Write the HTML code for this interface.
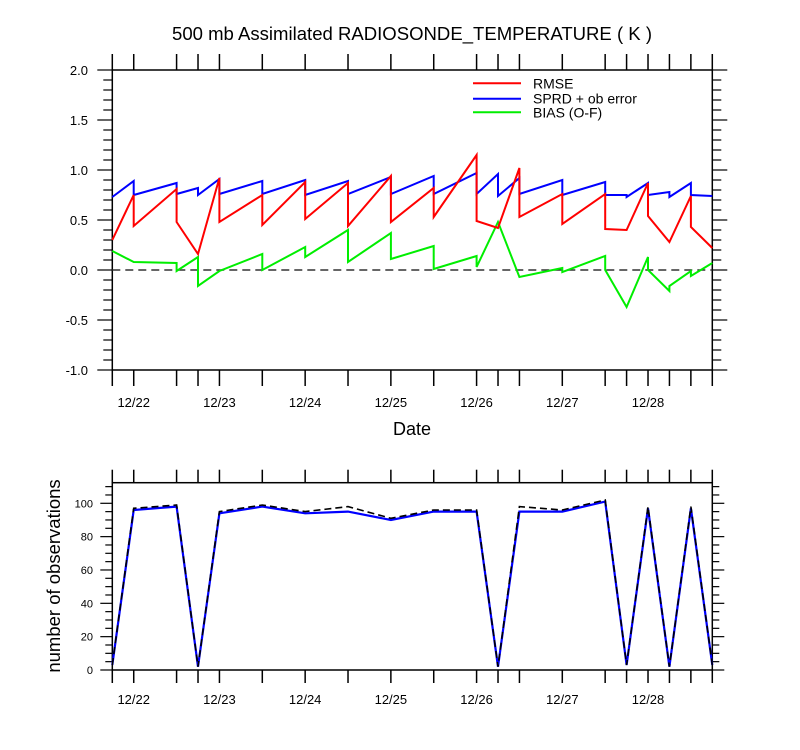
<!DOCTYPE html>
<html><head><meta charset="utf-8"><style>
html,body{margin:0;padding:0;background:#fff;}
svg{display:block;font-family:"Liberation Sans",sans-serif;}
</style></head><body>
<svg id="chart" width="800" height="750" viewBox="0 0 800 750" xmlns="http://www.w3.org/2000/svg">
<text x="412" y="40" font-size="18" text-anchor="middle" textLength="480" lengthAdjust="spacingAndGlyphs">500 mb Assimilated RADIOSONDE_TEMPERATURE ( K )</text>
<g id="topPanel"></g>
<g id="botPanel"></g>
</svg>
<script>
// time in 6-hour steps from 12/21 18Z; repeated steps form the vertical jumps
const dayLabels = ["12/22","12/23","12/24","12/25","12/26","12/27","12/28"];
const tickSteps = [0,1,3,4,5,7,9,11,13,15,17,18,19,21,23,24,25,26,27,28];
const rmseT = [0,1,1,3,3,4,5,5,7,7,9,9,11,11,13,13,15,15,17,17,18,19,19,21,21,23,23,24,25,25,26,27,27,28];
const rmseV = [0.30,0.75,0.44,0.81,0.48,0.16,0.92,0.48,0.75,0.45,0.88,0.51,0.87,0.44,0.94,0.48,0.82,0.53,1.15,0.49,0.42,1.02,0.53,0.76,0.46,0.76,0.41,0.40,0.87,0.54,0.28,0.74,0.43,0.22];
const sprdT = [0,1,1,3,3,4,4,5,5,7,7,9,9,11,11,13,13,15,15,17,17,18,18,19,19,21,21,23,23,24,24,25,25,26,26,27,27,28];
const sprdV = [0.73,0.89,0.75,0.87,0.76,0.82,0.75,0.91,0.76,0.89,0.76,0.90,0.75,0.89,0.76,0.93,0.76,0.94,0.76,0.97,0.76,0.96,0.74,0.92,0.76,0.90,0.75,0.88,0.75,0.75,0.73,0.87,0.75,0.78,0.73,0.87,0.75,0.74];
const biasT = [0,1,3,3,4,4,5,7,7,9,9,11,11,13,13,15,15,17,17,18,19,21,21,23,23,24,25,25,26,26,27,27,28];
const biasV = [0.19,0.08,0.07,-0.01,0.13,-0.16,-0.01,0.16,0.0,0.23,0.13,0.40,0.08,0.37,0.11,0.24,0.01,0.14,0.03,0.48,-0.07,0.02,-0.02,0.14,0.0,-0.37,0.13,0.0,-0.21,-0.16,-0.01,-0.06,0.07];
const countSteps = [0,1,3,4,5,7,9,11,13,15,17,18,19,21,23,24,25,26,27,28];
const countAssim = [3,96,98,2,94,98,94,95,90,95,95,2,95,95,101,3,97,2,97,3];
const countTotal = [3,97,99,2,95,99,95,98,91,96,96,2,98,96,102,3,98,2,98,3];
const yTopTicks = [-1.0,-0.5,0.0,0.5,1.0,1.5,2.0];
const yBotTicks = [0,20,40,60,80,100];

const NS="http://www.w3.org/2000/svg";
const X0=112.3, X1=712.3;
const xs = s => X0 + s*(X1-X0)/28;
const yT = v => 70 + (2.0 - v)*100;
const yB = v => 670 - v*(670-503.3)/100;
function el(tag, attrs, parent){const e=document.createElementNS(NS,tag);for(const k in attrs)e.setAttribute(k,attrs[k]);parent.appendChild(e);return e;}
const topG=document.getElementById('topPanel'), botG=document.getElementById('botPanel');

function frame(g, yTop, yBot, name, labOff, tl){
  const r=el('rect',{x:X0,y:yTop,width:X1-X0,height:yBot-yTop,fill:'none',stroke:'#000','stroke-width':1.5},g);
  
  
  tickSteps.forEach(s=>{
    const x=xs(s);
    const t1=el('line',{x1:x,x2:x,y1:yBot,y2:yBot+tl,stroke:'#000','stroke-width':1.5},g);
    
    
    const t2=el('line',{x1:x,x2:x,y1:yTop,y2:yTop-tl,stroke:'#000','stroke-width':1.5},g);
    
    
  });
  dayLabels.forEach((d,i)=>{
    const t=el('text',{x:xs(1+4*i),y:yBot+labOff,'font-size':13,'text-anchor':'middle'},g);
    t.textContent=d;
    
    
  });
}
function series(g, T, V, yf, color, w, dash, name){
  const p=T.map((t,i)=>xs(t).toFixed(1)+','+yf(V[i]).toFixed(1)).join(' ');
  const a={points:p,fill:'none',stroke:color,'stroke-width':w,'stroke-linejoin':'miter'};
  if(dash)a['stroke-dasharray']=dash;
  const e=el('polyline',a,g);
  
  
}

// top panel
frame(topG,70,370,'top',37,16);
for(let k=0;k<=30;k++){
  const v=-1+k*0.1, y=yT(v), major=(k%5===0);
  [[X0,X0-(major?15:9)],[X1,X1+(major?15:9)]].forEach(([a,b])=>{
    const t=el('line',{x1:a,x2:b,y1:y,y2:y,stroke:'#000','stroke-width':1.2},topG);
    
    
  });
}
yTopTicks.forEach(v=>{
  const t=el('text',{x:88,y:yT(v)+5,'font-size':13,'text-anchor':'end'},topG);
  t.textContent=v.toFixed(1);
  
  
});
const zl=el('line',{x1:X0,x2:X1,y1:yT(0),y2:yT(0),stroke:'#333','stroke-width':1.5,'stroke-dasharray':'8,5'},topG);


series(topG,sprdT,sprdV,yT,'#0000ff',2,null,'sprd-line');
series(topG,biasT,biasV,yT,'#00ee00',2,null,'bias-line');
series(topG,rmseT,rmseV,yT,'#ff0000',2,null,'rmse-line');
[['RMSE','#ff0000',83.3],['SPRD + ob error','#0000ff',98.7],['BIAS (O-F)','#00ee00',112.3]].forEach(([lab,c,y])=>{
  const l=el('line',{x1:473,x2:521,y1:y,y2:y,stroke:c,'stroke-width':2},topG);
  
  
  const t=el('text',{x:533,y:y+5,'font-size':14},topG);
  t.textContent=lab;
  
  
});
const dt=el('text',{x:412,y:435,'font-size':18,'text-anchor':'middle'},topG);
dt.textContent='Date';



// bottom panel
frame(botG,482.7,670,'bottom',34,13);
for(let v=0;v<=110;v+=5){
  const y=yB(v), major=(v%20===0);
  [[X0,X0-(major?12:7)],[X1,X1+(major?12:7)]].forEach(([a,b])=>{
    const t=el('line',{x1:a,x2:b,y1:y,y2:y,stroke:'#000','stroke-width':1.2},botG);
    
    
  });
}
yBotTicks.forEach(v=>{
  const t=el('text',{x:93,y:yB(v)+4,'font-size':11,'text-anchor':'end'},botG);
  t.textContent=String(v);
  
  
});
const yl=el('text',{x:0,y:0,'font-size':18.5,'text-anchor':'middle',transform:'translate(60,576) rotate(-90)'},botG);
yl.textContent='number of observations';


series(botG,countSteps,countAssim,yB,'#0000ff',2.2,null,'assimilated-count-line');
series(botG,countSteps,countTotal,yB,'#000',1.6,'7,4','total-count-line');
</script>
</body></html>
